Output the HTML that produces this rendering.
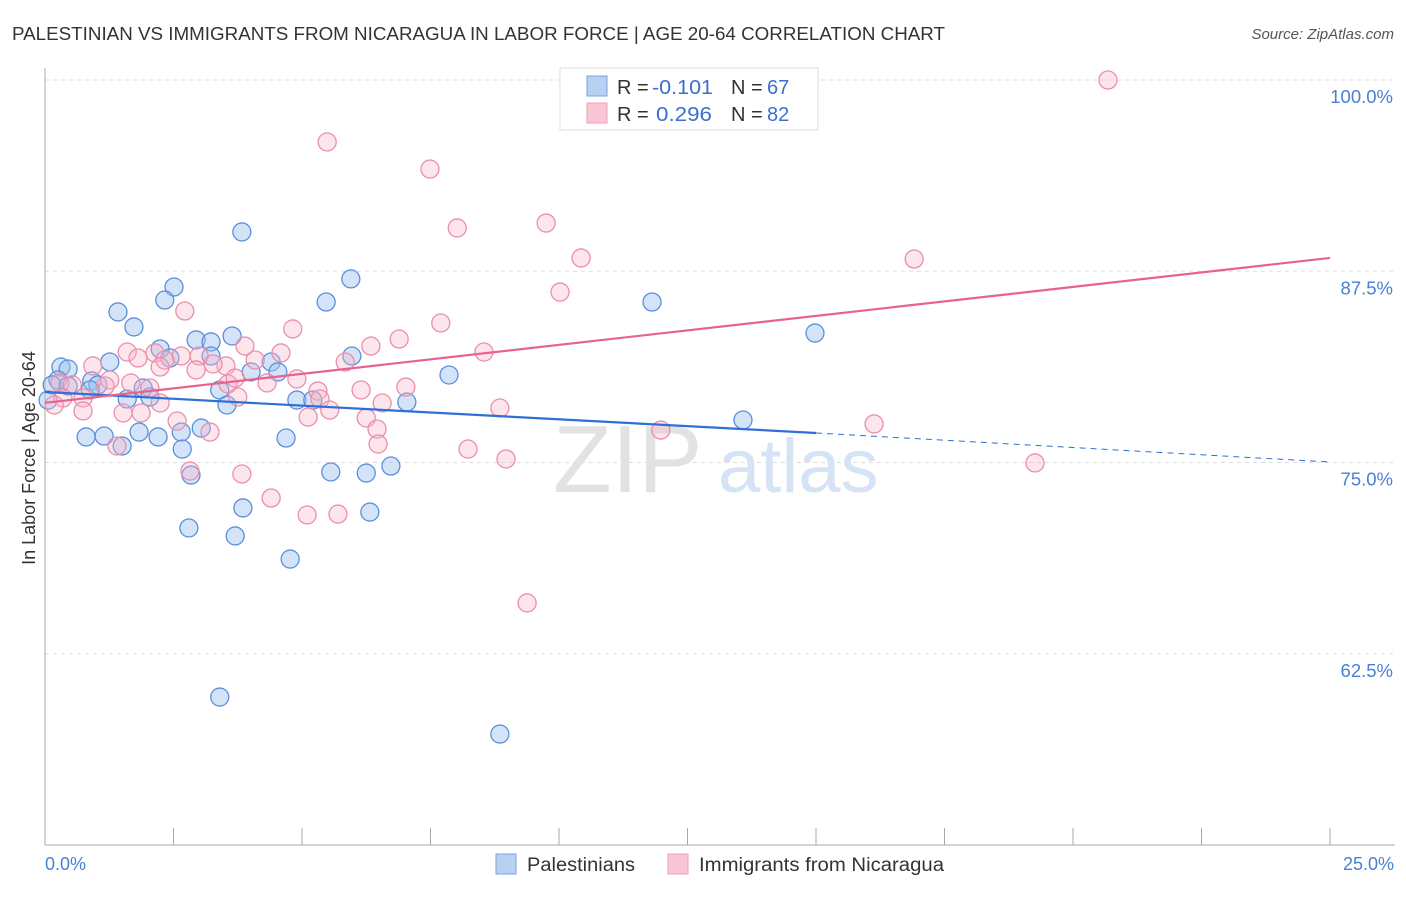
<!DOCTYPE html>
<html><head><meta charset="utf-8"><style>
body{margin:0;background:#fff;font-family:"Liberation Sans",sans-serif;}
svg text{font-family:"Liberation Sans",sans-serif;}
</style></head><body>
<svg id="chart" width="1406" height="892">
<text x="12" y="40" font-size="18" fill="#333" textLength="933" lengthAdjust="spacingAndGlyphs">PALESTINIAN VS IMMIGRANTS FROM NICARAGUA IN LABOR FORCE | AGE 20-64 CORRELATION CHART</text>
<text x="1394" y="39" font-size="15" fill="#555" font-style="italic" text-anchor="end">Source: ZipAtlas.com</text>
<g id="grid"></g>
<g>
<text x="553" y="492" font-size="96" fill="#e2e2e2" font-family="Liberation Serif,serif">ZIP</text>
<text x="718" y="492" font-size="76" fill="#d5e3f5">atlas</text>
</g>
<line x1="45" y1="68" x2="45" y2="845" stroke="#aaa"/>
<line x1="45" y1="845" x2="1395" y2="845" stroke="#aaa"/>
<text x="35" y="458" font-size="18" fill="#333" text-anchor="middle" transform="rotate(-90 35 458)">In Labor Force | Age 20-64</text>
<text x="45" y="870" font-size="18" fill="#4a7fd6">0.0%</text>
<text x="1394" y="870" font-size="18" fill="#4a7fd6" text-anchor="end">25.0%</text>
<g id="pts"></g>
<g id="trends"></g>
<g>
<rect x="560" y="68" width="258" height="62" fill="#fff" stroke="#ddd"/>
<rect x="587" y="76" width="20" height="20" fill="#b8d0f2" stroke="#7aa3e0"/>
<rect x="587" y="103" width="20" height="20" fill="#f9c6d5" stroke="#eda0b8"/>
<g font-size="20">
<text x="617" y="94" fill="#333">R =</text><text x="652" y="94" fill="#3b6fd0" textLength="61" lengthAdjust="spacingAndGlyphs">-0.101</text>
<text x="731" y="94" fill="#333">N =</text><text x="767" y="94" fill="#3b6fd0">67</text></g>
<g font-size="20">
<text x="617" y="121" fill="#333">R =</text><text x="656" y="121" fill="#3b6fd0" textLength="56" lengthAdjust="spacingAndGlyphs">0.296</text>
<text x="731" y="121" fill="#333">N =</text><text x="767" y="121" fill="#3b6fd0">82</text></g>
</g>
<g>
<rect x="496" y="854" width="20" height="20" fill="#b8d0f2" stroke="#7aa3e0"/>
<text x="527" y="871" font-size="19" fill="#333" textLength="108" lengthAdjust="spacingAndGlyphs">Palestinians</text>
<rect x="668" y="854" width="20" height="20" fill="#f9c6d5" stroke="#eda0b8"/>
<text x="699" y="871" font-size="19" fill="#333" textLength="245" lengthAdjust="spacingAndGlyphs">Immigrants from Nicaragua</text>
</g>
</svg>
<script>
const yTicks=[100,87.5,75,62.5];
const yTickLabels=["100.0%","87.5%","75.0%","62.5%"];
const xTicks=[0,2.5,5,7.5,10,12.5,15,17.5,20,22.5,25];
const blueX=[3.83,5.95,2.51,2.33,5.47,11.81,1.42,1.73,14.98,2.94,3.64,3.23,2.24,3.23,5.97,2.43,0.31,1.26,0.45,4.40,4.01,4.53,7.86,0.25,0.91,1.03,0.14,0.45,1.91,3.40,0.88,2.04,1.60,4.90,5.21,7.04,3.54,0.06,13.58,0.80,1.15,1.83,2.20,2.65,3.04,4.69,1.50,2.67,2.84,5.56,6.25,6.73,3.85,6.32,2.80,3.70,4.77,3.40,8.85];
const blueY=[90.07,87.0,86.47,85.62,85.49,85.49,84.84,83.86,83.46,83.01,83.27,82.88,82.42,81.96,81.96,81.83,81.24,81.57,81.11,81.57,80.92,80.92,80.72,80.39,80.33,80.07,80.07,80.0,79.87,79.74,79.74,79.28,79.15,79.08,79.08,78.95,78.76,79.08,77.78,76.67,76.73,76.99,76.67,76.99,77.25,76.60,76.08,75.88,74.18,74.38,74.31,74.77,72.03,71.76,70.72,70.20,68.69,59.67,57.25];
const pinkX=[20.68,5.49,7.49,8.02,9.75,10.43,16.91,10.02,2.72,7.70,4.82,6.89,6.34,3.89,1.60,2.14,2.65,8.54,4.59,2.33,3.00,1.81,3.52,5.84,0.93,4.09,3.27,2.24,0.29,2.94,4.90,4.32,3.56,3.70,6.15,7.02,5.31,5.35,3.75,1.26,1.67,1.17,0.53,2.04,0.35,0.74,2.24,0.18,0.74,8.85,5.54,1.52,6.25,1.87,2.57,5.12,6.56,3.21,6.46,11.98,16.13,1.40,6.48,8.23,8.97,19.26,2.82,3.83,4.40,5.10,5.70,9.38];
const pinkY=[100.0,95.95,94.18,90.33,90.65,88.37,88.30,86.14,84.90,84.12,83.73,83.07,82.61,82.61,82.22,82.16,81.96,82.22,82.16,81.70,81.96,81.83,81.31,81.57,81.31,81.70,81.44,81.24,80.20,81.05,80.46,80.20,80.13,80.52,79.74,79.93,79.67,79.15,79.28,80.39,80.20,80.0,80.07,79.87,79.22,79.22,78.89,78.76,78.37,78.56,78.43,78.24,77.91,78.24,77.71,77.97,78.89,76.99,77.19,77.12,77.52,76.08,76.21,75.88,75.23,74.97,74.44,74.25,72.68,71.57,71.63,65.82];
const blueTrend=[79.61,76.93,75.03]; // at x=0, 15, 25
const pinkTrend=[78.9,88.37]; // at x=0, 25
const NS='http://www.w3.org/2000/svg';
const X=v=>45+v*51.4;
const Y=v=>80+(100-v)*15.3;
function mk(tag,attrs,parent){const e=document.createElementNS(NS,tag);for(const k in attrs)e.setAttribute(k,attrs[k]);parent.appendChild(e);return e;}
const grid=document.getElementById('grid');
yTicks.forEach((t,i)=>{
 const l=mk('line',{x1:45,x2:1395,y1:Y(t),y2:Y(t),stroke:'#ddd','stroke-dasharray':'4,4'},grid);
 
 
 const tx=mk('text',{x:1393,y:Y(t)+23,'font-size':18.5,fill:'#4a7fd6','text-anchor':'end'},grid);
 tx.textContent=yTickLabels[i];
 
 
});
xTicks.forEach(t=>{
 const l=mk('line',{x1:X(t),x2:X(t),y1:828,y2:845,stroke:'#aaa'},grid);
 
 
});
const pts=document.getElementById('pts');
blueX.forEach((x,i)=>{
 const c=mk('circle',{cx:X(x),cy:Y(blueY[i]),r:9,fill:'rgba(160,195,240,0.45)',stroke:'#5b8fdc','stroke-width':1.3},pts);
 
 
});
pinkX.forEach((x,i)=>{
 const c=mk('circle',{cx:X(x),cy:Y(pinkY[i]),r:9,fill:'rgba(248,180,200,0.35)',stroke:'#ec8eab','stroke-width':1.3},pts);
 
 
});
const tr=document.getElementById('trends');
const b1=mk('line',{x1:X(0),y1:Y(blueTrend[0]),x2:X(15),y2:Y(blueTrend[1]),stroke:'#2f6fd6','stroke-width':2.2},tr);


const b2=mk('line',{x1:X(15),y1:Y(blueTrend[1]),x2:X(25),y2:Y(blueTrend[2]),stroke:'#2f6fd6','stroke-width':1,'stroke-dasharray':'6,5'},tr);


const p1=mk('line',{x1:X(0),y1:Y(pinkTrend[0]),x2:X(25),y2:Y(pinkTrend[1]),stroke:'#e8628f','stroke-width':2.2},tr);


</script>
</body></html>
